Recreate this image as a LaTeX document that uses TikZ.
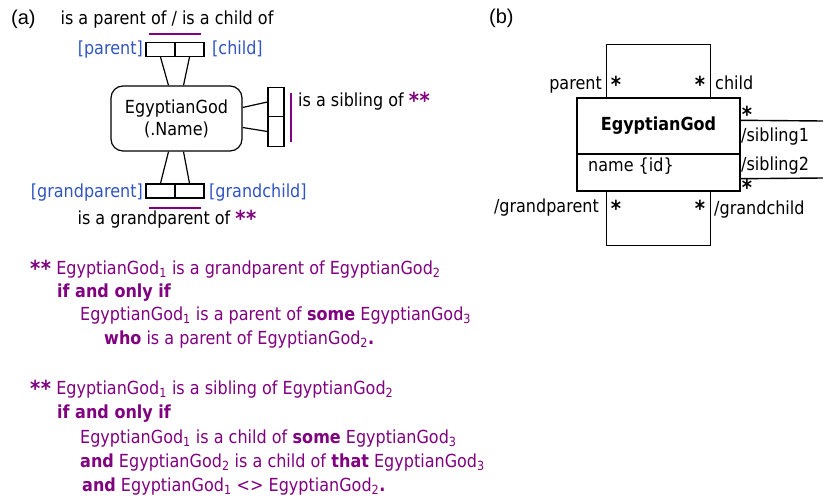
\documentclass[tikz,border=0pt]{standalone}
\usepackage{fontspec}
\setmainfont{DejaVu Sans}[FakeStretch=0.89]
\newfontfamily\lblfont{Liberation Sans}
\usetikzlibrary{calc}
\definecolor{purp}{RGB}{128,0,128}
\definecolor{roleblue}{RGB}{48,84,192}
\newcommand\fs{\fontsize{18}{22}\selectfont}
\newcommand\subn[1]{\textsubscript{#1}}
\newcommand\astr{{\fontsize{22}{22}\selectfont\bfseries\raisebox{-2.5pt}{*}}}
\newcommand\dstars{\astr\kern0.5pt\astr}
\tikzset{
  txt/.style={font=\fs, inner sep=0pt},
  role/.style={txt, text=roleblue},
  ptxt/.style={txt, text=purp, anchor=base west},
  plab/.style={font=\lblfont\fontsize{20}{22}\selectfont, inner sep=0pt, anchor=base west},
  hcell/.style={draw, line width=1.3pt, minimum width=29pt, minimum height=14pt, inner sep=0pt},
  vcell/.style={draw, line width=1.3pt, minimum width=16pt, minimum height=29.5pt, inner sep=0pt},
  pline/.style={draw=purp, line width=2pt},
  conn/.style={line width=1.2pt},
  uml/.style={draw, line width=1.4pt, inner sep=0pt},
  umlline/.style={line width=1.4pt},
  star/.style={txt, anchor=base},
}
\begin{document}
\begin{tikzpicture}[x=1pt,y=-1pt]
\useasboundingbox (0,0) rectangle (823,498);

% ---------- (a) ----------
\node[plab] (la) at (11,24) {(a)};
\node[txt, anchor=base] (t1) at (167,24) {is a parent of / is a child of};

\node[draw, line width=1.2pt, rounded corners=12pt, minimum width=131pt, minimum height=65pt, align=center, txt] (eg) at (176.5,118.5) {EgyptianGod\\(.Name)};

% top role pair
\node[hcell] (p) at (160.5,49.5) {};
\node[hcell] (c) at (189.5,49.5) {};
\node[role, anchor=base east] (pl) at (143,54) {[parent]};
\node[role, anchor=base west] (cl) at (212,54) {[child]};
\draw[pline] ($(p.north west)+(4,-8)$) -- ($(c.north east)+(-4,-8)$);
\draw[conn] (p.south) -- ($(eg.north)+(-8,0)$);
\draw[conn] (c.south) -- ($(eg.north)+(7,0)$);

% right role pair
\node[vcell] (s1) at (276,102) {};
\node[vcell] (s2) at (276,131.5) {};
\draw[conn] ($(eg.east)+(0,-11)$) -- (s1.west);
\draw[conn] ($(eg.east)+(0,9)$) -- (s2.west);
\draw[pline] (291,93) -- (291,142);
\node[txt, anchor=base west] (sib) at (298,106) {is a sibling of \textcolor{purp}{\dstars}};

% bottom role pair
\node[hcell] (gp) at (160.5,191) {};
\node[hcell] (gc) at (189.5,191) {};
\node[role, anchor=base east] (gpl) at (143,197) {[grandparent]};
\node[role, anchor=base west] (gcl) at (209,197) {[grandchild]};
\draw[pline] ($(gp.south west)+(4,9)$) -- ($(gc.south east)+(-4,9)$);
\draw[conn] (gp.north) -- ($(eg.south)+(-8,0)$);
\draw[conn] (gc.north) -- ($(eg.south)+(7,0)$);
\node[txt, anchor=base] (t2) at (167,224) {is a grandparent of \textcolor{purp}{\dstars}};

% ---------- rules text ----------
\node[ptxt] (b1) at (30,274) {\dstars{} EgyptianGod\subn{1} is a grandparent of EgyptianGod\subn{2}};
\node[ptxt] (b2) at (57,297) {\textbf{if and only if}};
\node[ptxt] (b3) at (80,320) {EgyptianGod\subn{1} is a parent of \textbf{some} EgyptianGod\subn{3}};
\node[ptxt] (b4) at (104,344) {\textbf{who} is a parent of EgyptianGod\subn{2}\textbf{.}};
\node[ptxt] (b5) at (30,394) {\dstars{} EgyptianGod\subn{1} is a sibling of EgyptianGod\subn{2}};
\node[ptxt] (b6) at (57,418) {\textbf{if and only if}};
\node[ptxt] (b7) at (80,443) {EgyptianGod\subn{1} is a child of \textbf{some} EgyptianGod\subn{3}};
\node[ptxt] (b8) at (80,467) {\textbf{and} EgyptianGod\subn{2} is a child of \textbf{that} EgyptianGod\subn{3}};
\node[ptxt] (b9) at (82,491) {\textbf{and} EgyptianGod\subn{1} <> EgyptianGod\subn{2}\textbf{.}};

% ---------- (b) ----------
\node[plab] (lb) at (489,23) {(b)};
\node[uml, minimum width=163pt, minimum height=56pt, font=\fs\bfseries] (cls) at (658.5,126) {EgyptianGod};
\node[uml, minimum width=163pt, minimum height=37pt] (attr) at (658.5,172.5) {};
\node[txt, anchor=base west] (nm) at (588,171.5) {name \{id\}};

\draw[umlline] ($(cls.north west)+(30,0)$) -- ++(0,-53) -| ($(cls.north east)+(-30,0)$);
\draw[umlline] ($(attr.south west)+(30,0)$) -- ++(0,54) -| ($(attr.south east)+(-30,0)$);
\coordinate (r1) at (823,121);
\coordinate (r2) at (823,178);
\draw[umlline] ($(cls.north east)+(0,23)$) -- (r1);
\draw[umlline] ($(attr.south east)+(0,-13)$) -- (r2);

\node[txt, anchor=base east] (lp) at (602,89) {parent};
\node[txt, anchor=base west] (lc) at (715,89) {child};
\node[star] (st1) at (616,90) {\astr};
\node[star] (st2) at (700,90) {\astr};
\node[star] (st3) at (747,120) {\astr};
\node[txt, anchor=base west] (ls1) at (741,141) {/sibling1};
\node[txt, anchor=base west] (ls2) at (741,170) {/sibling2};
\node[star] (st4) at (747,193) {\astr};
\node[star] (st5) at (616,214) {\astr};
\node[star] (st6) at (700,214) {\astr};
\node[txt, anchor=base east] (lgp) at (599,212) {/grandparent};
\node[txt, anchor=base west] (lgc) at (714,214) {/grandchild};
\end{tikzpicture}
\end{document}
